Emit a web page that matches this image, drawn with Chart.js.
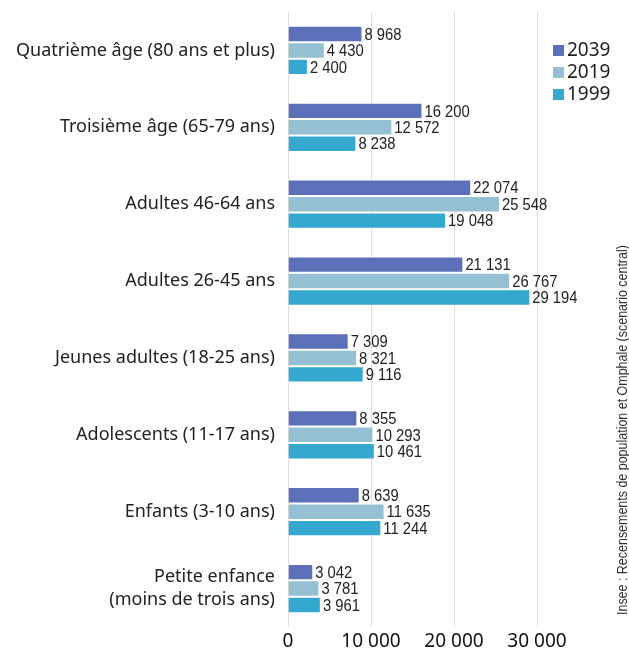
<!DOCTYPE html>
<html lang="fr">
<head>
<meta charset="UTF-8">
<title>Population par âge</title>
<script src="https://cdn.jsdelivr.net/npm/chart.js"></script>
<style>
  body { margin: 0; background: #fff; }
  #wrap { width: 629px; height: 654px; }
</style>
</head>
<body>
<div id="wrap"><canvas id="ageChart" width="629" height="654"></canvas></div>
<script>
const categories = [
  'Quatrième âge (80 ans et plus)',
  'Troisième âge (65-79 ans)',
  'Adultes 46-64 ans',
  'Adultes 26-45 ans',
  'Jeunes adultes (18-25 ans)',
  'Adolescents (11-17 ans)',
  'Enfants (3-10 ans)',
  ['Petite enfance', '(moins de trois ans)']
];
const years = ['2039', '2019', '1999'];
const values2039 = [8968, 16200, 22074, 21131, 7309, 8355, 8639, 3042];
const values2019 = [4430, 12572, 25548, 26767, 8321, 10293, 11635, 3781];
const values1999 = [2400, 8238, 19048, 29194, 9116, 10461, 11244, 3961];
const xTicks = [0, 10000, 20000, 30000];
const source = 'Insee : Recensements de population et Omphale (scenario central)';

const colors = ['#5b70b8', '#95c0d4', '#35a8cf'];

function fmt(n) {
  return String(n).replace(/\B(?=(\d{3})+(?!\d))/g, ' ');
}

// narrow text: squeeze a normal font horizontally
function narrowText(ctx, text, x, y, sx) {
  ctx.save();
  ctx.translate(x, y);
  ctx.scale(sx, 1);
  ctx.fillText(text, 0, 0);
  ctx.restore();
}

// labels next to bars, legend box and vertical source note
const extras = {
  id: 'extras',
  afterDatasetsDraw(chart) {
    const ctx = chart.ctx;
    ctx.save();
    ctx.font = '17px "Liberation Sans", Arial, sans-serif';
    ctx.fillStyle = '#222';
    ctx.textBaseline = 'middle';
    ctx.textAlign = 'left';
    chart.data.datasets.forEach((ds, i) => {
      chart.getDatasetMeta(i).data.forEach((bar, j) => {
        narrowText(ctx, fmt(ds.data[j]), bar.x + 2, bar.y + 1, 0.87);
      });
    });

    // legend
    ctx.font = '19px "Noto Sans", sans-serif';
    years.forEach((y, i) => {
      const top = 45 + i * 22;
      ctx.fillStyle = colors[i];
      ctx.fillRect(553, top, 11, 11);
      ctx.fillStyle = '#222';
      ctx.fillText(y, 567, top + 6);
    });

    // source
    ctx.translate(623, 615);
    ctx.rotate(-Math.PI / 2);
    ctx.font = '14px "Liberation Sans", Arial, sans-serif';
    ctx.fillStyle = '#333';
    narrowText(ctx, source, 0, 0, 0.89);
    ctx.restore();
  }
};

new Chart(document.getElementById('ageChart'), {
  type: 'bar',
  data: {
    labels: categories,
    datasets: [
      { label: years[0], data: values2039, backgroundColor: colors[0] },
      { label: years[1], data: values2019, backgroundColor: colors[1] },
      { label: years[2], data: values1999, backgroundColor: colors[2] }
    ].map(d => Object.assign(d, {
      borderColor: '#fff',
      borderWidth: 1,
      barPercentage: 1,
      categoryPercentage: 0.64
    }))
  },
  options: {
    indexAxis: 'y',
    responsive: false,
    animation: false,
    layout: { padding: { top: 12, right: 92, left: 0, bottom: 0 } },
    plugins: {
      legend: { display: false },
      tooltip: { enabled: false }
    },
    scales: {
      x: {
        min: 0,
        max: 30000,
        afterBuildTicks: scale => { scale.ticks = xTicks.map(v => ({ value: v })); },
        afterFit: scale => { scale.height = 27; scale.paddingLeft = 0; scale.paddingRight = 0; },
        grid: { color: '#dedede', drawTicks: false },
        border: { display: false },
        ticks: {
          color: '#111',
          padding: 3,
          font: { family: '"Noto Sans", sans-serif', size: 19 },
          callback: v => fmt(v)
        }
      },
      y: {
        afterFit: scale => { scale.width = 288; scale.paddingTop = 0; scale.paddingBottom = 0; },
        grid: { display: false },
        border: { display: false },
        ticks: {
          color: '#222',
          padding: 5,
          font: { family: '"Noto Sans", sans-serif', size: 18, lineHeight: 1.28 }
        }
      }
    }
  },
  plugins: [extras]
});
</script>
</body>
</html>
